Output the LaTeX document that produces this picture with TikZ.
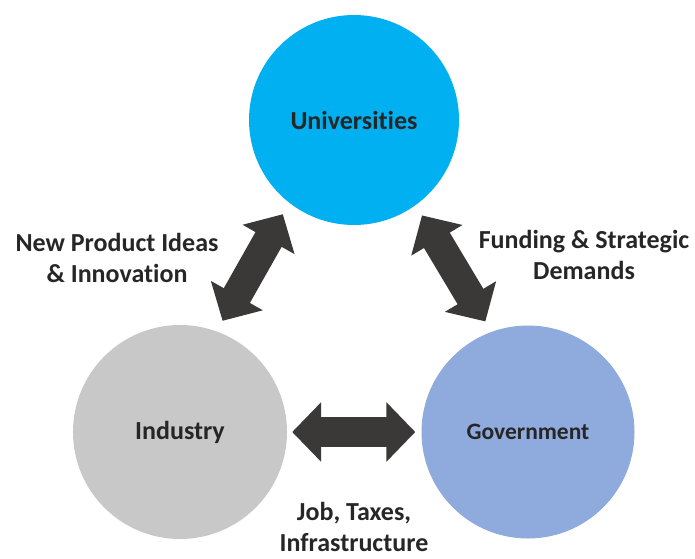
\documentclass[tikz,border=0pt]{standalone}
\usepackage{fontspec}
\setmainfont{Carlito}[Ligatures=NoCommon]
\usepackage{tikz}
\usetikzlibrary{arrows.meta,positioning}
\definecolor{uniblue}{HTML}{00B0F0}
\definecolor{indgrey}{HTML}{C8C8C8}
\definecolor{govblue}{HTML}{8FAADC}
\definecolor{arrgrey}{HTML}{3B3838}
\definecolor{txt}{HTML}{262626}

\begin{document}
\begin{tikzpicture}[x=1pt, y=1pt,
    circ/.style={circle, draw=none, minimum size=212pt, inner sep=0pt,
                 font=\bfseries\fontsize{26}{30}\selectfont, text=txt},
    arr/.style={{Triangle[width=58pt, length=29pt]}-{Triangle[width=58pt, length=29pt]},
                line width=30pt, arrgrey},
    lbl/.style={align=center, font=\bfseries\fontsize{26}{31}\selectfont, text=txt}
  ]
  \useasboundingbox (0,0) rectangle (695,558);
  % --- the three spheres ---
  \node[circ, fill=uniblue, minimum size=210pt] (Uni) at (354,438) {Universities};
  \node[circ, fill=indgrey, minimum size=214pt] (Ind) at (180,126) {Industry};
  \node[circ, fill=govblue, minimum size=213pt,
        font=\bfseries\fontsize{23.5}{27}\selectfont] (Gov) at (528,126) {Government};
  % --- links ---
  \draw[arr, shorten <=12pt, shorten >=13pt] (Ind.70.8) -- (Uni.232.2);
  \draw[arr, shorten <=12pt, shorten >=12pt] (Uni.306.3) -- (Gov.110.7);
  \draw[arr, shorten <=5pt, shorten >=6pt] (Ind.east) -- (Gov.west);
  % --- link labels ---
  \node[lbl] (ideas) at (117,300) {New Product Ideas\\\& Innovation};
  \node[lbl] (funding) at (584,303) {Funding \& Strategic\\Demands};
  \node[lbl] (jobs) at (354,31) {Job, Taxes,\\Infrastructure};
\end{tikzpicture}
\end{document}
